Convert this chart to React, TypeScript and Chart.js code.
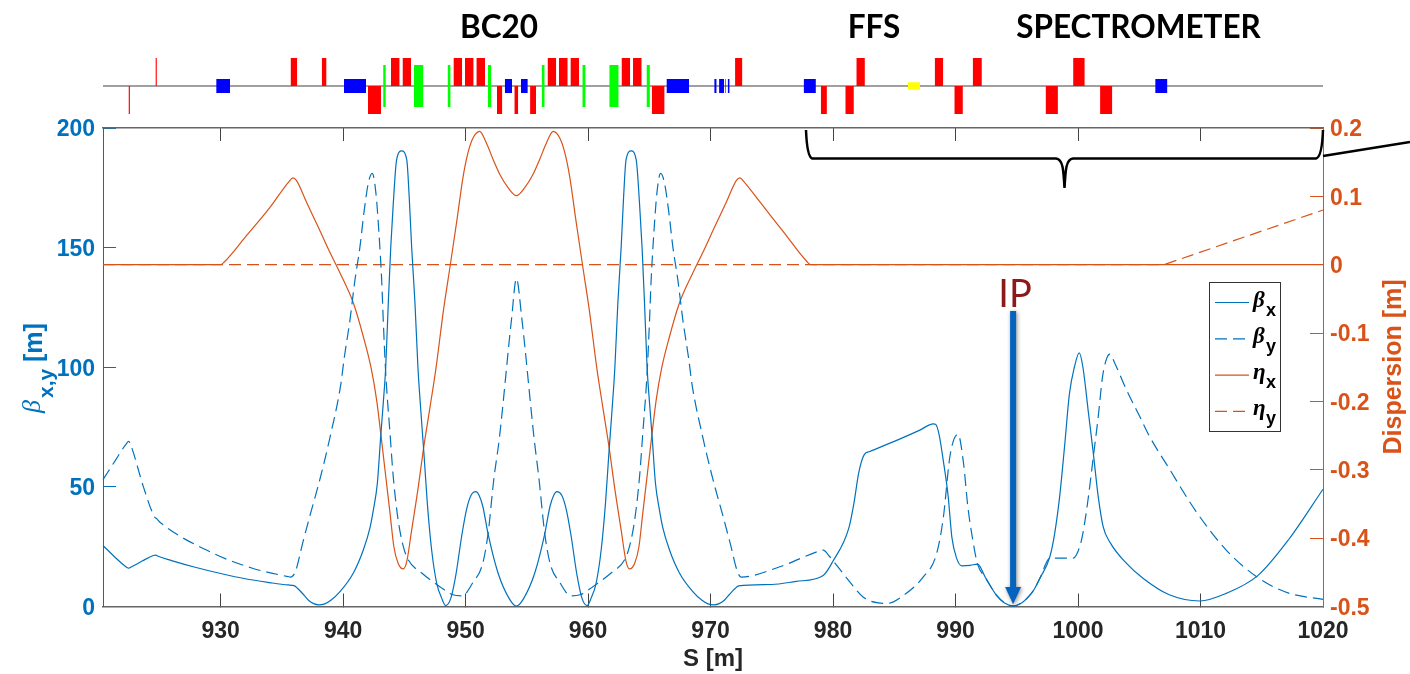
import React, { useEffect, useRef } from "react";
import { Chart, registerables } from "chart.js";

Chart.register(...registerables);

const S_MIN = 920.4;
const S_MAX = 1020;

const betaX: number[][] = [
  [920.4,25.5],[921.4,20.5],[922.3,16.5],[922.5,16],[922.7,16.5],[923.6,19],[924.5,21.3],[924.7,21.5],[924.9,21],[926,19.2],[928,16.3],[930,13.8],[932,11.6],[934,10],[935.5,9],[936,8.7],[936.3,7.5],[936.8,4.8],[937.2,2.5],[937.6,1.2],[938,0.7],[938.5,1.1],[939,2.6],[939.75,6.2],[940.84,14],[941.65,23.6],[942.2,33],[942.47,40.3],[942.8,51.6],[943.07,71],[943.28,85],[943.48,100],[943.69,126.7],[943.89,150],[944.1,168.6],[944.37,186.7],[944.78,190.4],[945.2,186.7],[945.4,171],[945.6,150],[945.87,126.7],[946.11,100],[946.36,80.9],[946.6,64],[946.88,43],[947.23,23.6],[947.64,9.8],[948.05,3.5],[948.38,0.4],[948.8,3.5],[949.2,13],[949.7,30],[950.1,41],[950.45,46.5],[950.85,48],[951.1,46.5],[951.4,42],[951.85,30],[952.65,14],[953.6,3],[954.15,0.2],[954.7,3],[955.65,14],[956.45,30],[956.9,42],[957.2,46.5],[957.45,48],[957.85,46.5],[958.2,41],[958.6,30],[959.1,13],[959.5,3.5],[959.92,0.4],[960.25,3.5],[960.66,9.8],[961.07,23.6],[961.42,43],[961.7,64],[961.94,80.9],[962.19,100],[962.43,126.7],[962.7,150],[962.9,171],[963.1,186.7],[963.52,190.4],[963.93,186.7],[964.2,168.6],[964.41,150],[964.61,126.7],[964.82,100],[965.02,85],[965.23,71],[965.5,51.6],[965.83,40.3],[966.1,33],[966.65,23.6],[967.46,14],[968.55,6.2],[969.3,2.6],[969.8,1.1],[970.3,0.7],[970.7,1.2],[971.1,2.5],[971.5,4.8],[972,7.5],[972.3,8.6],[975,9.2],[977,10.5],[979.2,13],[980,19],[981.3,33],[981.7,43],[982.1,56],[982.55,63.5],[983,64.8],[985,69],[987,73.5],[988.2,76.3],[988.4,76],[988.65,72],[989,61],[989.4,46],[989.7,29],[990.1,20],[990.5,17],[991.2,17.2],[991.8,17.7],[992.45,12],[993.37,4.5],[994,1.5],[994.7,0.3],[995.4,1.5],[996,4.3],[996.4,7],[996.89,11.8],[997.7,20.8],[998.1,30.7],[998.5,45.9],[998.9,66.8],[999.3,89],[999.7,100],[1000.1,106],[1000.4,100],[1000.85,81],[1001.25,64],[1001.65,45.9],[1002.05,33.4],[1002.65,26.5],[1003.96,18],[1005.3,11.8],[1007.4,5],[1009.95,2.3],[1012.1,5.5],[1014.7,13],[1017.2,28],[1020,49],
];

const betaY: number[][] = [
  [920.4,53],[921.4,61],[922.3,68],[922.5,69],[922.7,67],[923.7,50],[924.6,37.5],[924.8,36.6],[925.1,35],[929.5,22],[932.6,16],[935.5,12.5],[935.7,12.3],[936.1,14.5],[936.7,26.5],[937.35,39],[938.1,53],[938.9,70],[939.83,93.4],[940.07,103],[940.56,119.7],[940.97,136.5],[941.38,150.4],[941.7,164.5],[942.06,177],[942.38,181],[942.68,172.8],[942.93,156],[943.15,136.5],[943.28,119.7],[943.48,97.6],[943.83,72.5],[944.1,54],[944.5,36],[944.92,25],[945.33,19.4],[946.42,14],[947.9,8.3],[948.9,5],[949.7,4.4],[950.6,10],[951.4,18],[951.85,31],[952.3,53],[952.75,70],[953.75,120],[954.15,137],[954.6,120],[955.6,70],[956,53],[956.45,31],[956.9,18],[957.7,10],[958.6,4.4],[959.4,5],[960.4,8.3],[961.88,14],[962.97,19.4],[963.38,25],[963.8,36],[964.2,54],[964.47,72.5],[964.82,97.6],[965.02,119.7],[965.15,136.5],[965.37,156],[965.62,172.8],[965.92,181],[966.24,177],[966.6,164.5],[966.92,150.4],[967.33,136.5],[967.74,119.7],[968.23,103],[968.47,93.4],[969.4,70],[970.2,53],[970.95,39],[971.6,26.5],[972.2,14.5],[972.5,12.3],[975.65,16.6],[979.0,23.4],[979.2,23.6],[979.7,21],[981.1,12],[982.45,4],[983.7,1.5],[984.45,1.3],[985.85,5],[987.3,12],[988.45,22],[989,37],[989.55,63],[990.2,72],[990.65,60],[991,42],[991.4,28],[991.8,17.7],[992.45,12],[993.37,4.5],[994,1.5],[994.7,0.3],[995.4,1.5],[996,4.3],[996.4,7],[996.89,11.8],[997.7,20.2],[998.25,20.2],[999.6,20.2],[1000.1,24.4],[1000.4,30.7],[1000.85,45.9],[1001.25,62.6],[1001.65,79.3],[1002,96],[1002.35,103.8],[1002.6,105.5],[1003,101.7],[1003.96,90.5],[1005.05,79.3],[1005.85,71],[1007.4,58],[1009.6,40],[1012.1,23.6],[1014.7,12],[1017.2,5.6],[1020,3],
];

const etaX: number[][] = [
  [920.4,0],[930,0],[930.3,0.004],[932,0.04],[934,0.083],[935.6,0.122],[935.9,0.127],[936.2,0.123],[937,0.092],[938,0.054],[938.9,0.019],[939.75,-0.012],[940.84,-0.056],[941.65,-0.105],[942.3,-0.152],[942.74,-0.198],[943.07,-0.246],[943.42,-0.3],[943.83,-0.363],[944.15,-0.413],[944.5,-0.437],[944.92,-0.445],[945.2,-0.434],[945.6,-0.388],[946.14,-0.325],[946.55,-0.271],[947.1,-0.208],[947.58,-0.152],[948.2,-0.066],[948.73,-0.003],[949.3,0.066],[949.8,0.129],[950.2,0.164],[950.6,0.185],[951.15,0.195],[951.7,0.178],[952.25,0.154],[952.8,0.132],[953.5,0.112],[954.15,0.101],[954.8,0.112],[955.5,0.132],[956.05,0.154],[956.6,0.178],[957.15,0.195],[957.7,0.185],[958.1,0.164],[958.5,0.129],[959,0.066],[959.57,-0.003],[960.1,-0.066],[960.72,-0.152],[961.2,-0.208],[961.75,-0.271],[962.16,-0.325],[962.7,-0.388],[963.1,-0.434],[963.38,-0.445],[963.8,-0.437],[964.15,-0.413],[964.47,-0.363],[964.88,-0.3],[965.23,-0.246],[965.56,-0.198],[966,-0.152],[966.65,-0.105],[967.46,-0.056],[968.55,-0.012],[969.4,0.019],[970.3,0.054],[971.3,0.092],[972.1,0.123],[972.4,0.127],[972.7,0.122],[974,0.0925],[976,0.047],[977.9,0.004],[978.2,0],[1020,0],
];

const etaY: number[][] = [[920.4,0],[1007,0],[1020,0.08]];

const redUp: number[][] = [
  [924.68,924.8],[935.71,936.26],[938.26,938.65],[943.91,944.62],[944.85,945.56],[949.01,949.72],[949.95,950.66],[950.88,951.59],[956.69,957.4],[957.62,958.34],[958.56,959.27],[962.73,963.44],[963.67,964.38],[972.0,972.6],[981.9,982.6],[988.3,989.0],[991.4,992.15],[999.6,1000.55],
];
const redDown: number[][] = [
  [922.48,922.6],[942.03,943.1],[952.56,953.0],[953.98,954.3],[955.27,955.76],[965.2,966.25],[979.0,979.5],[981.0,981.7],[989.9,990.6],[997.35,998.36],[1001.8,1002.8],
];
const blueQuads: number[][] = [
  [929.64,930.77],[940.07,941.87],[953.2,953.8],[954.52,955.08],[966.4,968.25],[970.3,970.5],[970.7,971.1],[971.2,971.27],[971.4,971.56],[977.6,978.6],[1006.3,1007.3],
];
const greenSext: number[][] = [
  [943.27,943.49],[945.79,946.56],[948.53,948.78],[951.82,952.11],[956.21,956.46],[959.53,959.8],[961.73,962.5],[964.77,965.05],
];
const yellowEl: number[][] = [[986.1,987.1]];

const sections = [
  { label: "BC20", center: 499 },
  { label: "FFS", center: 874 },
  { label: "SPECTROMETER", center: 1138.5 },
];
const legendRows = [
  { glyph: "β", sub: "x", color: "#0072BD", dash: [] as number[] },
  { glyph: "β", sub: "y", color: "#0072BD", dash: [12, 6] },
  { glyph: "η", sub: "x", color: "#D95319", dash: [] as number[] },
  { glyph: "η", sub: "y", color: "#D95319", dash: [12, 6] },
];

const BLUE = "#0072BD";
const ORANGE = "#D95319";
const DARK = "#262626";
const SANS = '"Liberation Sans", Arial, sans-serif';
const SERIF = '"Liberation Serif", serif';

const toPts = (a: number[][]) => a.map(([x, y]) => ({ x, y }));

const magnetSet = (list: number[][], lo: number, hi: number, color: string) =>
  list.map(([a, b]) => ({
    type: "line" as const,
    data: [{ x: a, y: lo }, { x: a, y: hi }, { x: b, y: hi }, { x: b, y: lo }],
    borderWidth: 0,
    backgroundColor: color,
    borderColor: color,
    pointRadius: 0,
    fill: { value: lo },
  }));

const headerPlugin = {
  id: "header",
  afterDraw(chart: any) {
    const c = chart.ctx;
    c.save();
    c.fillStyle = "#000";
    c.font = "bold 31.5px Lato, sans-serif";
    c.textAlign = "center";
    c.textBaseline = "alphabetic";
    sections.forEach((s) => c.fillText(s.label, s.center, 38));
    c.restore();
  },
};

const overlayPlugin = {
  id: "overlay",
  afterDraw(chart: any) {
    const c = chart.ctx;
    const x = chart.scales.x;
    const y = chart.scales.y;
    c.save();

    // curly brace spanning the final focus and spectrometer
    c.strokeStyle = "#000";
    c.lineWidth = 2.5;
    c.beginPath();
    c.moveTo(806, 130);
    c.quadraticCurveTo(807, 156, 812, 158.5);
    c.lineTo(1056, 158.5);
    c.bezierCurveTo(1063, 159, 1063.5, 170, 1064.5, 188);
    c.bezierCurveTo(1065.5, 170, 1066, 159, 1073, 158.5);
    c.lineTo(1316, 158.5);
    c.quadraticCurveTo(1322, 157, 1323, 130);
    c.stroke();
    c.beginPath();
    c.moveTo(1323, 156);
    c.lineTo(1410, 142);
    c.stroke();

    // IP marker
    const ipX = x.getPixelForValue(994.7);
    const ipTip = y.getPixelForValue(0.5);
    c.fillStyle = "#8B1A1A";
    c.font = "38px Lato, sans-serif";
    c.textAlign = "center";
    c.textBaseline = "alphabetic";
    c.fillText("IP", ipX + 2, 307);
    c.shadowColor = "rgba(0,0,0,0.45)";
    c.shadowBlur = 4;
    c.shadowOffsetX = 1;
    c.shadowOffsetY = 1;
    c.fillStyle = "#0563C0";
    c.beginPath();
    c.moveTo(ipX - 3, 311);
    c.lineTo(ipX + 3, 311);
    c.lineTo(ipX + 3, 587);
    c.lineTo(ipX + 8, 587);
    c.lineTo(ipX, ipTip - 1);
    c.lineTo(ipX - 8, 587);
    c.lineTo(ipX - 3, 587);
    c.closePath();
    c.fill();
    c.shadowColor = "transparent";
    c.shadowBlur = 0;
    c.shadowOffsetX = 0;
    c.shadowOffsetY = 0;

    // legend
    c.fillStyle = "#fff";
    c.fillRect(1210, 282, 70, 149);
    c.strokeStyle = "#333";
    c.lineWidth = 1;
    c.setLineDash([]);
    c.strokeRect(1209.5, 282.5, 71, 149);
    legendRows.forEach((r, i) => {
      const rowY = 302.5 + i * 36.3;
      c.strokeStyle = r.color;
      c.lineWidth = 1.2;
      c.setLineDash(r.dash);
      c.beginPath();
      c.moveTo(1215, rowY);
      c.lineTo(1249, rowY);
      c.stroke();
      c.setLineDash([]);
      c.fillStyle = "#000";
      c.textAlign = "left";
      c.font = `italic bold 23px ${SERIF}`;
      c.fillText(r.glyph, 1253, rowY + 4);
      c.font = `bold 18px ${SANS}`;
      c.fillText(r.sub, 1266, rowY + 13);
    });

    // left axis title
    c.save();
    c.translate(40, 413);
    c.rotate(-Math.PI / 2);
    c.fillStyle = BLUE;
    c.textAlign = "left";
    c.font = `italic 26px ${SERIF}`;
    c.fillText("β", 0, 0);
    c.font = `bold 21px ${SANS}`;
    c.fillText("x,y", 15, 13);
    c.font = `bold 25px ${SANS}`;
    c.fillText("[m]", 51, 2);
    c.restore();

    // right axis title
    c.save();
    c.translate(1401, 367);
    c.rotate(-Math.PI / 2);
    c.fillStyle = ORANGE;
    c.textAlign = "center";
    c.font = `bold 25px ${SANS}`;
    c.fillText("Dispersion [m]", 0, 0);
    c.restore();

    c.restore();
  },
};

export default function App() {
  const mainRef = useRef<HTMLCanvasElement>(null);
  const topRef = useRef<HTMLCanvasElement>(null);

  useEffect(() => {
    const strip = new Chart(topRef.current as HTMLCanvasElement, {
      type: "line",
      data: {
        datasets: [
          ...magnetSet(redUp, 0, 1, "#FF0000"),
          ...magnetSet(redDown, -1, 0, "#FF0000"),
          ...magnetSet(blueQuads, -0.25, 0.25, "#0000FF"),
          ...magnetSet(greenSext, -0.75, 0.75, "#00FF00"),
          ...magnetSet(yellowEl, -0.13, 0.13, "#FFFF00"),
          {
            type: "line" as const,
            data: [{ x: S_MIN, y: 0 }, { x: S_MAX, y: 0 }],
            borderColor: "#808080",
            borderWidth: 1.5,
            pointRadius: 0,
          },
        ] as any,
      },
      options: {
        responsive: false,
        animation: false,
        layout: { padding: { left: 103, right: 87, top: 58, bottom: 14 } },
        plugins: { legend: { display: false }, tooltip: { enabled: false } },
        scales: {
          x: { type: "linear", min: S_MIN, max: S_MAX, display: false },
          y: { min: -1, max: 1, display: false },
        },
      },
      plugins: [headerPlugin],
    } as any);

    const line = (label: string, pts: number[][], color: string, axis: string, dashed: boolean, smooth: boolean) => ({
      label,
      data: toPts(pts),
      borderColor: color,
      backgroundColor: color,
      borderWidth: 1.2,
      borderDash: dashed ? [12, 6] : [],
      pointRadius: 0,
      yAxisID: axis,
      cubicInterpolationMode: smooth ? ("monotone" as const) : ("default" as const),
      tension: 0,
      clip: false,
    });

    const main = new Chart(mainRef.current as HTMLCanvasElement, {
      type: "line",
      data: {
        datasets: [
          line("βx", betaX, BLUE, "y", false, true),
          line("βy", betaY, BLUE, "y", true, true),
          line("ηx", etaX, ORANGE, "y2", false, true),
          line("ηy", etaY, ORANGE, "y2", true, false),
        ],
      },
      options: {
        responsive: false,
        animation: false,
        layout: { autoPadding: false, padding: { top: 128 } },
        plugins: { legend: { display: false }, tooltip: { enabled: false } },
        scales: {
          x: {
            type: "linear",
            position: "bottom",
            min: S_MIN,
            max: S_MAX,
            afterFit: (s: any) => { s.height = 67.5; },
            border: { color: "#666", width: 1.5 },
            grid: { drawOnChartArea: false, tickLength: -13, tickColor: "#444" },
            ticks: {
              stepSize: 10,
              includeBounds: false,
              maxRotation: 0,
              autoSkip: false,
              padding: 24,
              color: DARK,
              font: { family: SANS, weight: "bold", size: 23 },
              callback: (v: any) => String(v),
            },
            title: {
              display: true,
              text: "S [m]",
              color: DARK,
              font: { family: SANS, weight: "bold", size: 24 },
              padding: 0,
            },
          },
          xTop: {
            type: "linear",
            position: "top",
            min: S_MIN,
            max: S_MAX,
            afterFit: (s: any) => { s.height = 0; },
            border: { color: "#666", width: 1.5 },
            grid: { drawOnChartArea: false, tickLength: -13, tickColor: "#444" },
            ticks: { stepSize: 10, includeBounds: false, display: false },
          },
          y: {
            position: "left",
            min: 0,
            max: 200,
            afterFit: (s: any) => { s.width = 103; },
            border: { color: BLUE, width: 1 },
            grid: { drawOnChartArea: false, tickLength: -13, tickColor: BLUE },
            ticks: {
              stepSize: 50,
              padding: 21,
              labelOffset: 2,
              color: BLUE,
              font: { family: SANS, weight: "bold", size: 23 },
            },
          },
          y2: {
            position: "right",
            min: -0.5,
            max: 0.2,
            afterFit: (s: any) => { s.width = 87; },
            border: { color: ORANGE, width: 1 },
            grid: { drawOnChartArea: false, tickLength: -13, tickColor: ORANGE },
            ticks: {
              stepSize: 0.1,
              padding: 20,
              labelOffset: 2,
              color: ORANGE,
              font: { family: SANS, weight: "bold", size: 23 },
              callback: (v: any) => String(Math.round(Number(v) * 10) / 10),
            },
          },
        },
      },
      plugins: [overlayPlugin],
    } as any);

    return () => {
      strip.destroy();
      main.destroy();
    };
  }, []);

  return (
    <div style={{ position: "absolute", left: 0, top: 0, width: 1410, height: 674, overflow: "hidden", background: "#fff" }}>
      <canvas ref={topRef} width={1410} height={128} style={{ position: "absolute", left: 0, top: 0, width: 1410, height: 128 }} />
      <canvas ref={mainRef} width={1410} height={674} style={{ position: "absolute", left: 0, top: 0, width: 1410, height: 674 }} />
    </div>
  );
}
